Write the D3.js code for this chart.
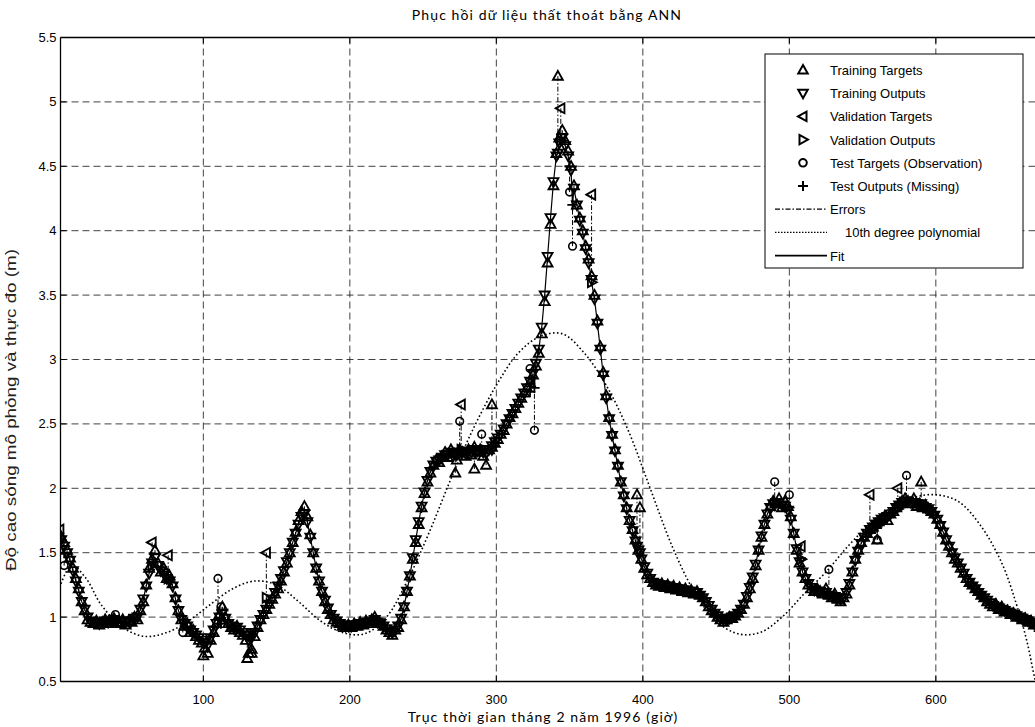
<html>
<head>
  <meta charset="utf-8">
  <title>Phục hồi dữ liệu thất thoát bằng ANN</title>
  <script src="https://d3js.org/d3.v7.min.js"></script>
  <style>
    body { margin: 0; background: #fff; }
    .tick-label { font-family: "Liberation Sans", Arial, sans-serif; font-size: 13px; }
    .legend-label { font-family: "Liberation Sans", Arial, sans-serif; font-size: 13px; }
    .caption { font-family: Lato, "DejaVu Sans", sans-serif; font-size: 14px; letter-spacing: 1.1px; }
  </style>
</head>
<body>
  <svg id="chart" width="1035" height="727"></svg>
  <script>
    // time axis (hours), one sample every 2 hours
    const hours = d3.range(1, 680, 2);

    const trainTargets = [
      1.66, 1.62, 1.58, 1.52, 1.46, 1.38, 1.3, 1.22, 1.12, 1.05,
      0.98, 0.96, 0.95, 0.97, 0.94, 0.96, 0.98, 0.95, 0.97, 0.99,
      0.96, 0.95, 0.98, 0.94, 0.97, 0.96, 1.0, 0.98, 1.05, 1.12,
      1.25, 1.38, 1.45, 1.52, 1.42, 1.35, 1.38, 1.3, 1.32, 1.26,
      1.15, 1.05, 0.98, 0.93, 0.95, 0.88, 0.9, 0.85, 0.82, 0.8,
      0.76, 0.72, 0.82, 0.88, 0.95, 1.02, 1.08, 1.0, 0.95, 0.92,
      0.9, 0.93, 0.88, 0.86, 0.82, 0.72, 0.75, 0.85, 0.92, 0.98,
      1.02, 1.06, 1.1, 1.14, 1.18, 1.22, 1.28, 1.35, 1.42, 1.5,
      1.58, 1.66, 1.75, 1.82, 1.86, 1.78, 1.64, 1.5, 1.38, 1.28,
      1.2, 1.12, 1.06, 1.02, 0.98, 0.96, 0.95, 0.93, 0.92, 0.94,
      0.92, 0.95, 0.93, 0.96, 0.94, 0.97, 0.95, 0.98, 1.0, 0.96,
      0.95, 0.93, 0.9, 0.88, 0.86, 0.9, 0.92, 0.98, 1.08, 1.2,
      1.32, 1.45, 1.58, 1.72, 1.85, 1.96, 2.05, 2.12, 2.18, 2.22,
      2.2, 2.25, 2.28, 2.24, 2.3, 2.27, 2.22, 2.3, 2.28, 2.25,
      2.3, 2.26, 2.32, 2.28, 2.3, 2.25, 2.18, 2.3, 2.32, 2.35,
      2.38, 2.42, 2.45, 2.5, 2.55, 2.58, 2.62, 2.66, 2.7, 2.74,
      2.78, 2.82, 2.88, 2.95, 3.05, 3.2, 3.45, 3.75, 4.05, 4.35,
      4.6, 4.72, 4.78, 4.7, 4.62, 4.5, 4.35, 4.2, 4.1, 4.0,
      3.88, 3.78, 3.65, 3.5, 3.3, 3.1, 2.9, 2.72, 2.55, 2.42,
      2.3, 2.18, 2.05, 1.95, 1.85, 1.75, 1.68, 1.6, 1.52, 1.45,
      1.38, 1.33, 1.3, 1.27, 1.25, 1.24, 1.26, 1.23, 1.25, 1.22,
      1.24, 1.21, 1.23, 1.2, 1.22, 1.19, 1.21, 1.18, 1.2, 1.17,
      1.15, 1.12, 1.08, 1.05, 1.03, 1.0, 0.98, 0.96, 0.98, 1.0,
      0.99, 1.01, 1.03, 1.06, 1.1, 1.15, 1.22, 1.3, 1.4, 1.52,
      1.62, 1.72, 1.8, 1.86, 1.9, 1.88, 1.92, 1.85, 1.9, 1.86,
      1.78, 1.65, 1.52, 1.42, 1.35, 1.3, 1.25, 1.22, 1.2, 1.22,
      1.2, 1.18, 1.22, 1.17, 1.15, 1.18, 1.14, 1.12, 1.15, 1.18,
      1.25, 1.35, 1.45, 1.52, 1.58, 1.62, 1.65, 1.68, 1.7, 1.72,
      1.74, 1.76, 1.78, 1.75, 1.8, 1.82, 1.85, 1.88, 1.9, 1.92,
      1.9, 1.88, 1.92, 1.86, 1.88, 1.85, 1.87, 1.84, 1.82, 1.8,
      1.76, 1.72, 1.66, 1.6, 1.55, 1.5, 1.45, 1.42, 1.38, 1.34,
      1.3, 1.27, 1.25, 1.22, 1.2, 1.17, 1.15, 1.12, 1.1, 1.08,
      1.1, 1.06, 1.08, 1.04, 1.05, 1.02, 1.03, 1.0, 1.01, 0.98,
      0.99, 0.96, 0.97, 0.94, 0.95, 0.92, 0.93, 0.9, 0.91, 0.89
    ];

    const trainOutputs = [
      1.62, 1.6, 1.55, 1.5, 1.44, 1.36, 1.28, 1.2, 1.12, 1.06,
      1.0, 0.97, 0.96, 0.96, 0.95, 0.96, 0.97, 0.96, 0.97, 0.98,
      0.97, 0.96, 0.97, 0.96, 0.97, 0.97, 0.99, 1.0, 1.06, 1.14,
      1.24, 1.34, 1.42, 1.46, 1.4, 1.36, 1.34, 1.3, 1.28, 1.24,
      1.14, 1.05, 0.98, 0.95, 0.93, 0.9, 0.88, 0.86, 0.84, 0.82,
      0.8, 0.78, 0.84, 0.9, 0.95, 1.0, 1.03, 0.99, 0.95, 0.93,
      0.91, 0.92, 0.9, 0.88, 0.86, 0.82, 0.84, 0.88, 0.93, 0.98,
      1.02, 1.06, 1.1, 1.14, 1.19, 1.24, 1.3, 1.36, 1.43, 1.5,
      1.58, 1.65, 1.72, 1.78, 1.8, 1.74, 1.62, 1.5, 1.38, 1.28,
      1.2, 1.13, 1.07, 1.02, 0.99, 0.97, 0.95, 0.94, 0.93, 0.93,
      0.93, 0.94, 0.94, 0.95, 0.95, 0.96, 0.96, 0.97, 0.98, 0.96,
      0.95, 0.93, 0.91, 0.89, 0.88, 0.9, 0.93, 0.99, 1.08, 1.2,
      1.32, 1.46, 1.6, 1.74, 1.86, 1.97, 2.06, 2.13, 2.18, 2.21,
      2.22, 2.24, 2.26, 2.26, 2.28, 2.27, 2.26, 2.28, 2.28, 2.27,
      2.29, 2.28, 2.3, 2.29, 2.3, 2.28, 2.27, 2.3, 2.33, 2.36,
      2.39, 2.42, 2.46, 2.5, 2.54, 2.58, 2.62, 2.66, 2.7, 2.74,
      2.78, 2.83, 2.89, 2.97, 3.08, 3.25, 3.5, 3.8, 4.1, 4.38,
      4.58, 4.68, 4.72, 4.66, 4.58, 4.47, 4.33, 4.2, 4.08, 3.98,
      3.86, 3.75, 3.62, 3.47, 3.28, 3.08, 2.88, 2.7, 2.54, 2.41,
      2.29, 2.17, 2.05, 1.94, 1.84, 1.75, 1.67, 1.59, 1.52, 1.45,
      1.39, 1.34, 1.3, 1.27, 1.26, 1.25, 1.25, 1.24, 1.24, 1.23,
      1.23, 1.22, 1.22, 1.21, 1.21, 1.2, 1.2, 1.19, 1.19, 1.17,
      1.15, 1.12, 1.09, 1.06, 1.03, 1.01, 0.99, 0.98, 0.98, 0.99,
      1.0, 1.01, 1.03, 1.06, 1.1, 1.16, 1.23, 1.31, 1.41, 1.52,
      1.63, 1.72, 1.8, 1.85, 1.88, 1.89, 1.89, 1.87, 1.86, 1.83,
      1.76, 1.65, 1.53, 1.43, 1.35, 1.3, 1.26, 1.23, 1.21, 1.2,
      1.2, 1.19, 1.19, 1.17, 1.16, 1.16, 1.15, 1.14, 1.15, 1.19,
      1.26, 1.35, 1.44, 1.51, 1.57, 1.62, 1.65, 1.68, 1.7, 1.72,
      1.74, 1.76, 1.77, 1.78, 1.8, 1.82, 1.85, 1.87, 1.89, 1.9,
      1.9, 1.89, 1.89, 1.88, 1.87, 1.86, 1.85, 1.84, 1.82, 1.79,
      1.76, 1.71, 1.66, 1.6, 1.55, 1.5, 1.46, 1.42, 1.38, 1.34,
      1.3, 1.27, 1.24, 1.22, 1.19, 1.17, 1.15, 1.13, 1.11, 1.09,
      1.08, 1.07, 1.06, 1.05, 1.04, 1.03, 1.02, 1.01, 1.0, 0.99,
      0.98, 0.97, 0.96, 0.95, 0.94, 0.93, 0.92, 0.91, 0.9, 0.89
    ];

    // training points far from the fit (target, output)
    const outlierHours = [342, 297, 100, 130, 133, 396, 398, 272, 285, 560, 590];
    const outlierTargets = [5.2, 2.65, 0.7, 0.68, 0.72, 1.95, 1.85, 2.12, 2.15, 1.6, 2.05];
    const outlierOutputs = [4.6, 2.3, 0.8, 0.86, 0.88, 1.55, 1.5, 2.27, 2.29, 1.72, 1.88];

    // validation subset
    const valHours = [2, 65, 76, 143, 276, 344, 365, 555, 574, 508];
    const valTargets = [1.68, 1.58, 1.48, 1.5, 2.65, 4.95, 4.28, 1.95, 2.0, 1.55];
    const valOutputs = [1.6, 1.4, 1.3, 1.15, 2.3, 4.7, 3.6, 1.66, 1.84, 1.45];

    // test subset (observation vs reconstructed)
    const testHours = [5, 40, 86, 110, 112, 275, 290, 323, 326, 350, 352, 490, 500, 527, 560, 580];
    const testTargets = [1.4, 1.02, 0.88, 1.3, 1.08, 2.52, 2.42, 2.93, 2.45, 4.3, 3.88, 2.05, 1.95, 1.37, 1.6, 2.1];
    const testOutputs = [1.5, 0.97, 0.98, 0.95, 0.95, 2.3, 2.3, 2.75, 2.78, 4.5, 4.2, 1.86, 1.85, 1.18, 1.7, 1.9];

    // 10th degree polynomial trend
    const polyHours = [1, 10, 20, 30, 45, 60, 75, 90, 105, 120, 135, 150, 165, 180, 195, 210, 225, 240, 255, 270,
      285, 300, 315, 330, 345, 360, 375, 390, 405, 420, 435, 450, 465, 480, 495, 510, 525, 540, 555, 570,
      585, 600, 615, 630, 645, 655, 662, 668, 675];
    const polyValues = [1.2, 1.4, 1.3, 1.1, 0.92, 0.85, 0.88, 0.97, 1.1, 1.22, 1.28, 1.25, 1.12, 0.97, 0.88, 0.87, 1.0, 1.3, 1.68, 2.1,
      2.48, 2.8, 3.05, 3.18, 3.2, 3.05, 2.8, 2.45, 2.0, 1.55, 1.2, 0.97, 0.87, 0.88, 1.0, 1.18, 1.35, 1.55, 1.72, 1.85,
      1.93, 1.95, 1.9, 1.72, 1.42, 1.1, 0.82, 0.5, 0.2];

    const xTicks = [100, 200, 300, 400, 500, 600];
    const yTicks = [0.5, 1, 1.5, 2, 2.5, 3, 3.5, 4, 4.5, 5, 5.5];

    const legendItems = [
      { label: "Training Targets", kind: "up" },
      { label: "Training Outputs", kind: "down" },
      { label: "Validation Targets", kind: "left" },
      { label: "Validation Outputs", kind: "right" },
      { label: "Test Targets (Observation)", kind: "circle" },
      { label: "Test Outputs (Missing)", kind: "plus" },
      { label: "Errors", kind: "dashdot" },
      { label: "10th degree polynomial", kind: "dotted" },
      { label: "Fit", kind: "solid" }
    ];

    const svg = d3.select("#chart");
    const plot = { left: 60.5, top: 37.5, bottom: 681.5 };

    // 146.5 px per 100 hours; the right end of the axes lies past the image
    const x = d3.scaleLinear().domain([2.5, 700]).range([plot.left, plot.left + 697.5 * 1.465]);
    const y = d3.scaleLinear().domain([0.5, 5.5]).range([plot.bottom, plot.top]);
    const rightEdge = x(700);

    svg.append("clipPath").attr("id", "clip")
      .append("rect")
      .attr("x", plot.left).attr("y", plot.top - 10)
      .attr("width", rightEdge - plot.left).attr("height", plot.bottom - plot.top + 10);

    // grid
    const grid = svg.append("g").attr("stroke", "#111").attr("stroke-width", 0.8)
      .attr("stroke-dasharray", "7,4");
    grid.selectAll("line.gx").data(xTicks).join("line")
      .attr("x1", d => x(d)).attr("x2", d => x(d))
      .attr("y1", plot.top).attr("y2", plot.bottom);
    grid.selectAll("line.gy").data(yTicks.slice(1, -1)).join("line")
      .attr("x1", plot.left).attr("x2", rightEdge)
      .attr("y1", d => y(d)).attr("y2", d => y(d));

    const g = svg.append("g").attr("clip-path", "url(#clip)");

    const symbolPath = function (kind, s) {
      if (kind === "up") return `M0,${-s}L${s * 0.95},${s * 0.7}L${-s * 0.95},${s * 0.7}Z`;
      if (kind === "down") return `M0,${s}L${s * 0.95},${-s * 0.7}L${-s * 0.95},${-s * 0.7}Z`;
      if (kind === "left") return `M${-s},0L${s * 0.7},${-s * 0.95}L${s * 0.7},${s * 0.95}Z`;
      if (kind === "right") return `M${s},0L${-s * 0.7},${-s * 0.95}L${-s * 0.7},${s * 0.95}Z`;
      if (kind === "plus") return `M${-s},0H${s}M0,${-s}V${s}`;
      return "";
    };

    const drawMarkers = function (xs, ys, kind) {
      const pts = xs.map((h, i) => [h, ys[i]]);
      if (kind === "circle") {
        g.append("g").selectAll("circle").data(pts).join("circle")
          .attr("cx", d => x(d[0])).attr("cy", d => y(d[1])).attr("r", 3.8)
          .attr("fill", "none").attr("stroke", "#000").attr("stroke-width", 1.6);
        return;
      }
      g.append("g").selectAll("path").data(pts).join("path")
        .attr("transform", d => `translate(${x(d[0])},${y(d[1])})`)
        .attr("d", symbolPath(kind, 5.2))
        .attr("fill", "none").attr("stroke", "#000")
        .attr("stroke-width", kind === "plus" ? 1.8 : 1.85);
    };

    // errors (target to output)
    const errorPairs = [];
    hours.forEach((h, i) => errorPairs.push([h, trainTargets[i], trainOutputs[i]]));
    outlierHours.forEach((h, i) => errorPairs.push([h, outlierTargets[i], outlierOutputs[i]]));
    valHours.forEach((h, i) => errorPairs.push([h, valTargets[i], valOutputs[i]]));
    testHours.forEach((h, i) => errorPairs.push([h, testTargets[i], testOutputs[i]]));
    g.append("g").selectAll("line").data(errorPairs).join("line")
      .attr("x1", d => x(d[0])).attr("x2", d => x(d[0]))
      .attr("y1", d => y(d[1])).attr("y2", d => y(d[2]))
      .attr("stroke", "#000").attr("stroke-width", 1)
      .attr("stroke-dasharray", "5,2,1.5,2");

    // fit line through outputs
    const fitPts = errorPairs.map(d => [d[0], d[2]]).sort((a, b) => a[0] - b[0]);
    g.append("path").datum(fitPts)
      .attr("d", d3.line().x(d => x(d[0])).y(d => y(d[1])))
      .attr("fill", "none").attr("stroke", "#000").attr("stroke-width", 1.2);

    drawMarkers(hours, trainTargets, "up");
    drawMarkers(outlierHours, outlierTargets, "up");
    drawMarkers(hours, trainOutputs, "down");
    drawMarkers(outlierHours, outlierOutputs, "down");
    drawMarkers(valHours, valTargets, "left");
    drawMarkers(valHours, valOutputs, "right");
    drawMarkers(testHours, testTargets, "circle");
    drawMarkers(testHours, testOutputs, "plus");

    // polynomial trend (dotted)
    g.append("path").datum(polyHours.map((h, i) => [h, polyValues[i]]))
      .attr("d", d3.line().curve(d3.curveCatmullRom).x(d => x(d[0])).y(d => y(d[1])))
      .attr("fill", "none").attr("stroke", "#000").attr("stroke-width", 1.6)
      .attr("stroke-dasharray", "1.6,2.4");

    // axes box and ticks
    const axisG = svg.append("g");
    axisG.append("line").attr("x1", plot.left).attr("x2", rightEdge)
      .attr("y1", plot.top).attr("y2", plot.top).attr("stroke", "#000").attr("stroke-width", 1.3);
    axisG.append("line").attr("x1", plot.left).attr("x2", rightEdge)
      .attr("y1", plot.bottom).attr("y2", plot.bottom).attr("stroke", "#000").attr("stroke-width", 1.6);
    axisG.append("line").attr("x1", plot.left).attr("x2", plot.left)
      .attr("y1", plot.top).attr("y2", plot.bottom).attr("stroke", "#000").attr("stroke-width", 1.3);

    axisG.selectAll("line.xt").data(xTicks).join("line")
      .attr("x1", d => x(d)).attr("x2", d => x(d))
      .attr("y1", plot.bottom).attr("y2", plot.bottom - 6)
      .attr("stroke", "#000").attr("stroke-width", 1);
    axisG.selectAll("line.xtt").data(xTicks).join("line")
      .attr("x1", d => x(d)).attr("x2", d => x(d))
      .attr("y1", plot.top).attr("y2", plot.top + 6)
      .attr("stroke", "#000").attr("stroke-width", 1);
    axisG.selectAll("line.yt").data(yTicks).join("line")
      .attr("x1", plot.left).attr("x2", plot.left + 6)
      .attr("y1", d => y(d)).attr("y2", d => y(d))
      .attr("stroke", "#000").attr("stroke-width", 1);

    axisG.selectAll("text.xl").data(xTicks).join("text")
      .attr("class", "tick-label")
      .attr("x", d => x(d)).attr("y", plot.bottom + 22)
      .attr("text-anchor", "middle").text(d => d);
    axisG.selectAll("text.yl").data(yTicks).join("text")
      .attr("class", "tick-label")
      .attr("x", plot.left - 4).attr("y", d => y(d) + 4.5)
      .attr("text-anchor", "end").text(d => d);

    // titles
    svg.append("text").attr("class", "caption")
      .attr("x", 547).attr("y", 20).attr("text-anchor", "middle")
      .text("Phục hồi dữ liệu thất thoát bằng ANN");
    svg.append("text").attr("class", "caption")
      .attr("x", 543).attr("y", 722).attr("text-anchor", "middle")
      .text("Trục thời gian tháng 2 năm 1996 (giờ)");
    svg.append("text")
      .attr("transform", "translate(16,410) rotate(-90)")
      .attr("text-anchor", "middle")
      .attr("textLength", 322).attr("lengthAdjust", "spacingAndGlyphs")
      .attr("fill", "#222")
      .style("font-family", "'Liberation Sans', Arial, sans-serif")
      .style("font-size", "15px")
      .text("Độ cao sóng mô phỏng và thực đo (m)");

    // legend
    const legend = svg.append("g").attr("transform", "translate(765,54)");
    legend.append("rect").attr("width", 258).attr("height", 214)
      .attr("fill", "#fff").attr("stroke", "#000").attr("stroke-width", 1);
    const rows = legend.selectAll("g.row").data(legendItems).join("g")
      .attr("transform", (d, i) => `translate(0,${16 + i * 23.2})`);
    rows.filter(d => ["up", "down", "left", "right", "plus"].includes(d.kind))
      .append("path")
      .attr("transform", "translate(38,0)")
      .attr("d", d => symbolPath(d.kind, 5))
      .attr("fill", "none").attr("stroke", "#000").attr("stroke-width", 2);
    rows.filter(d => d.kind === "circle").append("circle")
      .attr("cx", 38).attr("r", 3.8)
      .attr("fill", "none").attr("stroke", "#000").attr("stroke-width", 2);
    rows.filter(d => ["dashdot", "dotted", "solid"].includes(d.kind)).append("line")
      .attr("x1", 10).attr("x2", 62)
      .attr("stroke", "#000")
      .attr("stroke-width", d => d.kind === "solid" ? 1.6 : 1.3)
      .attr("stroke-dasharray", d => d.kind === "dashdot" ? "5,2,1.5,2" : d.kind === "dotted" ? "1.5,1.5" : null);
    rows.append("text").attr("class", "legend-label")
      .attr("x", d => d.kind === "dotted" ? 80 : 65).attr("y", 5)
      .text(d => d.label);
  </script>
</body>
</html>
